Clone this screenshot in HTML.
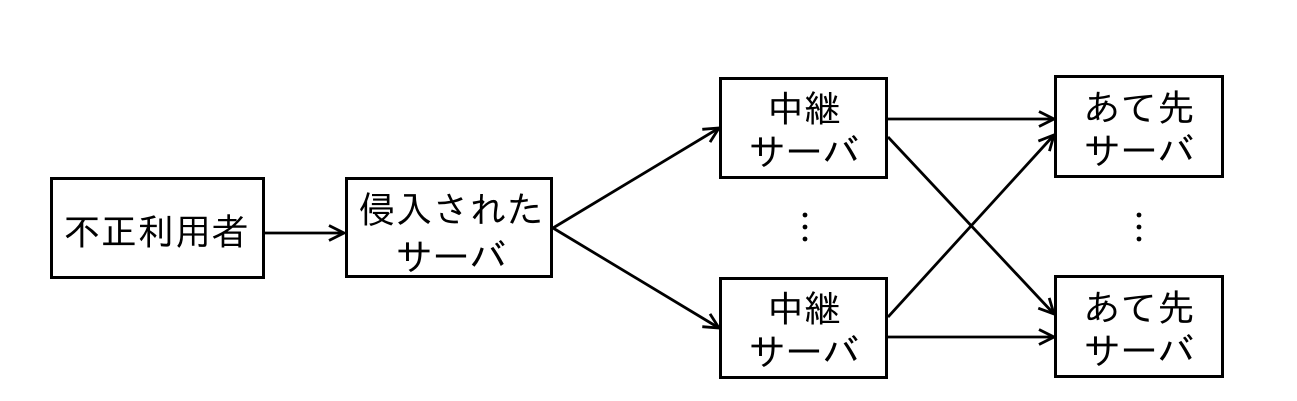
<!DOCTYPE html>
<html>
<head>
<meta charset="utf-8">
<style>
  html, body { margin: 0; padding: 0; background: #fff; }
  body { width: 1297px; height: 401px; overflow: hidden; }
  svg { display: block; }
  text { font-family: "Liberation Sans", "IPAGothic", "Noto Sans CJK JP", sans-serif; font-size: 37px; fill: #000; text-anchor: middle; }
</style>
</head>
<body>
<svg width="1297" height="401" viewBox="0 0 1297 401" xmlns="http://www.w3.org/2000/svg">
  <defs>
    <marker id="ah" viewBox="0 0 18 18" refX="16" refY="9" markerWidth="18" markerHeight="18" markerUnits="userSpaceOnUse" orient="auto" overflow="visible">
      <path d="M1,1.5 L16,9 L1,16.5" fill="none" stroke="#000" stroke-width="2.8" stroke-linejoin="miter"/>
    </marker>
  </defs>

  <!-- boxes -->
  <g fill="#fff" stroke="#000" stroke-width="3">
    <rect x="51.5" y="178.5" width="212" height="99"/>
    <rect x="346.5" y="178.5" width="205" height="98"/>
    <rect x="720.5" y="78.5" width="166" height="99"/>
    <rect x="720.5" y="278.5" width="166" height="99"/>
    <rect x="1055.5" y="76.5" width="167" height="100"/>
    <rect x="1055.5" y="276.5" width="167" height="100"/>
  </g>

  <!-- connectors -->
  <g stroke="#000" stroke-width="2.8" fill="none" marker-end="url(#ah)">
    <line x1="265" y1="233" x2="344" y2="233"/>
    <line x1="553" y1="228" x2="719" y2="128"/>
    <line x1="553" y1="228" x2="719" y2="328"/>
    <line x1="888" y1="119" x2="1054" y2="119"/>
    <line x1="888" y1="137" x2="1054" y2="314"/>
    <line x1="888" y1="317" x2="1054" y2="135"/>
    <line x1="888" y1="337" x2="1054" y2="337"/>
  </g>

  <!-- vertical ellipses -->
  <g fill="#000">
    <circle cx="805" cy="215" r="2.4"/>
    <circle cx="805" cy="227" r="2.4"/>
    <circle cx="805" cy="239" r="2.4"/>
    <circle cx="1139" cy="215" r="2.4"/>
    <circle cx="1139" cy="227" r="2.4"/>
    <circle cx="1139" cy="239" r="2.4"/>
  </g>

  <!-- labels -->
  <text x="156" y="245">不正利用者</text>
  <text x="451" y="223">侵入された</text>
  <text x="451" y="270">サーバ</text>

  <text x="804" y="122">中継</text>
  <text x="804" y="165">サーバ</text>
  <text x="804" y="322">中継</text>
  <text x="804" y="365">サーバ</text>

  <text x="1139" y="121">あて先</text>
  <text x="1139" y="164">サーバ</text>
  <text x="1139" y="321">あて先</text>
  <text x="1139" y="364">サーバ</text>
</svg>
</body>
</html>
